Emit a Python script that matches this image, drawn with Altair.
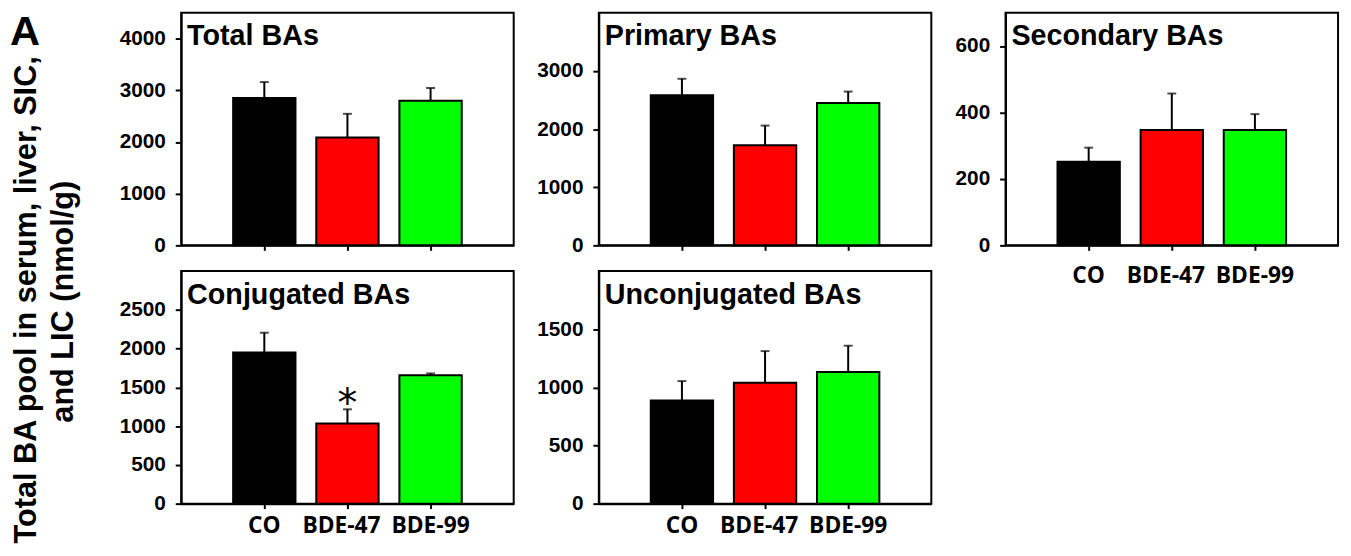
import altair as alt
import pandas as pd

# ---------------- data ----------------
groups = ["CO", "BDE-47", "BDE-99"]
colors = ["#000000", "#ff0000", "#00ff00"]

panel_titles = ["Total BAs", "Primary BAs", "Secondary BAs", "Conjugated BAs", "Unconjugated BAs"]

total_mean = [2850, 2085, 2800]
total_err = [310, 460, 245]

primary_mean = [2580, 1720, 2450]
primary_err = [285, 340, 195]

secondary_mean = [252, 347, 347]
secondary_err = [42, 110, 48]

conjugated_mean = [1950, 1035, 1655]
conjugated_err = [255, 182, 25]
conjugated_sig = ["", "*", ""]

unconjugated_mean = [887, 1040, 1133]
unconjugated_err = [167, 272, 225]

y_max = [4500, 4000, 700, 3000, 2000]
y_ticks = [
    [0, 1000, 2000, 3000, 4000],
    [0, 1000, 2000, 3000],
    [0, 200, 400, 600],
    [0, 500, 1000, 1500, 2000, 2500],
    [0, 500, 1000, 1500],
]

y_title_lines = ["Total BA pool in serum, liver, SIC,", "and LIC (nmol/g)"]
figure_label = "A"

# ---------------- styling ----------------
W, H = 336, 235
FONT = "Liberation Sans"
XFONT = "Open Sans"


def panel(title, means, errs, ymax, ticks, show_labels, label_pad, sig=None):
    df = pd.DataFrame({
        "group": groups,
        "mean": means,
        "upper": [m + e for m, e in zip(means, errs)],
        "sig": sig if sig else ["", "", ""],
    })
    base = alt.Chart(df)
    xaxis = alt.Axis(
        title=None, labels=show_labels, labelAngle=0, labelFont=XFONT,
        labelFontSize=23, labelFontWeight="bold", labelColor="black",
        labelPadding=label_pad, tickSize=5, tickWidth=2, tickColor="black",
        domainColor="black", domainWidth=2, grid=False,
        labelOffset={"condition": {"test": "datum.value === 'BDE-47'", "value": -6}, "value": 0},
    )
    x = alt.X("group:N", sort=groups,
              scale=alt.Scale(paddingInner=0.25, paddingOuter=0.625),
              axis=xaxis)
    yscale = alt.Scale(domain=[0, ymax], nice=False, zero=True)
    yaxis = alt.Axis(
        title=None, values=ticks, format="d", labelFont=FONT, labelFontSize=21,
        labelFontWeight="bold", labelColor="black", labelPadding=10,
        labelFlush=False, tickSize=6, tickWidth=2, tickColor="black",
        domainColor="black", domainWidth=2, grid=False,
    )
    rule = base.mark_rule(color="black", strokeWidth=2).encode(
        x=x, y=alt.Y("mean:Q", scale=yscale, axis=yaxis), y2="upper:Q")
    bars = base.mark_bar(stroke="black", strokeWidth=2).encode(
        x=x,
        y=alt.Y("mean:Q", scale=yscale, axis=yaxis),
        color=alt.Color("group:N", scale=alt.Scale(domain=groups, range=colors), legend=None),
    )
    cap = base.mark_tick(color="black", thickness=2, size=9).encode(
        x=x, y=alt.Y("upper:Q", scale=yscale, axis=yaxis))
    ttl = alt.Chart(pd.DataFrame({"t": [title]})).mark_text(
        align="left", baseline="alphabetic", font=FONT, fontSize=29,
        fontWeight="bold", color="black",
    ).encode(text="t:N", x=alt.value(6), y=alt.value(33))
    layers = [rule, bars, cap, ttl]
    if sig:
        star = base.mark_text(
            align="center", baseline="alphabetic", font="DejaVu Sans",
            fontSize=40, color="black", dy=7,
        ).encode(x=x, y=alt.Y("upper:Q", scale=yscale, axis=yaxis), text="sig:N")
        layers.append(star)
    return alt.layer(*layers).properties(
        width=W, height=H,
        view=alt.ViewBackground(stroke="black", strokeWidth=2),
    )


p1 = panel(panel_titles[0], total_mean, total_err, y_max[0], y_ticks[0], False, 6)
p2 = panel(panel_titles[1], primary_mean, primary_err, y_max[1], y_ticks[1], False, 6)
p3 = panel(panel_titles[2], secondary_mean, secondary_err, y_max[2], y_ticks[2], True, 15)
p4 = panel(panel_titles[3], conjugated_mean, conjugated_err, y_max[3], y_ticks[3], True, 6,
           sig=conjugated_sig)
p5 = panel(panel_titles[4], unconjugated_mean, unconjugated_err, y_max[4], y_ticks[4], True, 6)

# left side: figure label and shared y title
lab = alt.Chart(pd.DataFrame({"t": [figure_label]})).mark_text(
    align="left", baseline="alphabetic", font=FONT, fontSize=42,
    fontWeight="bold", color="black", clip=True,
).encode(text="t:N", x=alt.value(2), y=alt.value(33))
line1 = alt.Chart(pd.DataFrame({"t": [y_title_lines[0]]})).mark_text(
    align="center", baseline="alphabetic", font=FONT, fontSize=31,
    fontWeight="bold", color="black", angle=270,
).encode(text="t:N", x=alt.value(28), y=alt.value(290))
line2 = alt.Chart(pd.DataFrame({"t": [y_title_lines[1]]})).mark_text(
    align="center", baseline="alphabetic", font=FONT, fontSize=31,
    fontWeight="bold", color="black", angle=270,
).encode(text="t:N", x=alt.value(66), y=alt.value(292))
title_view = alt.layer(lab, line1, line2).properties(width=90, height=496)

col1 = alt.vconcat(p1, p4, spacing=26, bounds="flush")
col2 = alt.vconcat(p2, p5, spacing=26, bounds="flush")

chart = alt.hconcat(title_view, col1, col2, p3, spacing=21).properties(
    padding={"left": 0, "top": 1, "right": 4, "bottom": 4},
    background="white",
).configure_view(stroke=None)

chart.save("out.html", embed_options={"renderer": "svg", "actions": False})
